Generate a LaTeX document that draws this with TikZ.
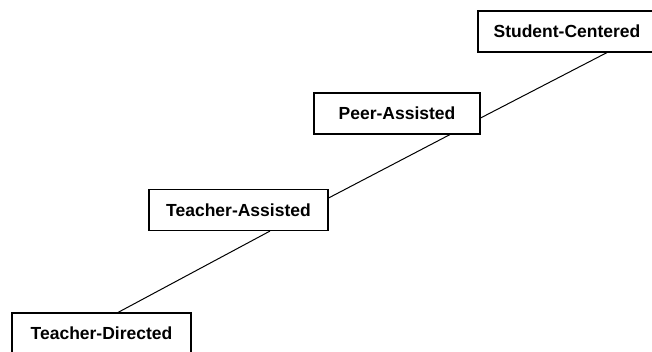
\documentclass[tikz,border=0pt]{standalone}
\usepackage{fontspec}
\setmainfont{Liberation Sans}
\begin{document}
\begin{tikzpicture}[x=1pt,y=-1pt,
  stage/.style={draw, line width=1.1pt, rectangle, inner sep=0pt,
    minimum height=41pt, font=\fontsize{17.5}{20}\selectfont\bfseries},
  link/.style={line width=1pt}]
  \useasboundingbox (0,0) rectangle (652,351);
  \clip (0,0) rectangle (652,351);
  \fill[white] (0,0) rectangle (652,351);
  % the four stages, from teacher-led up to student-led
  \node[stage, minimum width=178pt] (sc) at (567,31.5) {Student-Centered};
  \node[stage, minimum width=166pt] (pa) at (397,113.5) {Peer-Assisted};
  \node[stage, minimum width=179pt] (ta) at (238.5,210) {Teacher-Assisted};
  \node[stage, minimum width=179pt] (td) at (101.5,333.5) {Teacher-Directed};
  % connecting steps
  \draw[link] ([xshift=40pt]sc.south) -- ([yshift=-4.5pt]pa.east);
  \draw[link] ([xshift=53pt]pa.south) -- ([yshift=12pt]ta.east);
  \draw[link] ([xshift=31.5pt]ta.south) -- ([xshift=16.5pt]td.north);
\end{tikzpicture}
\end{document}
